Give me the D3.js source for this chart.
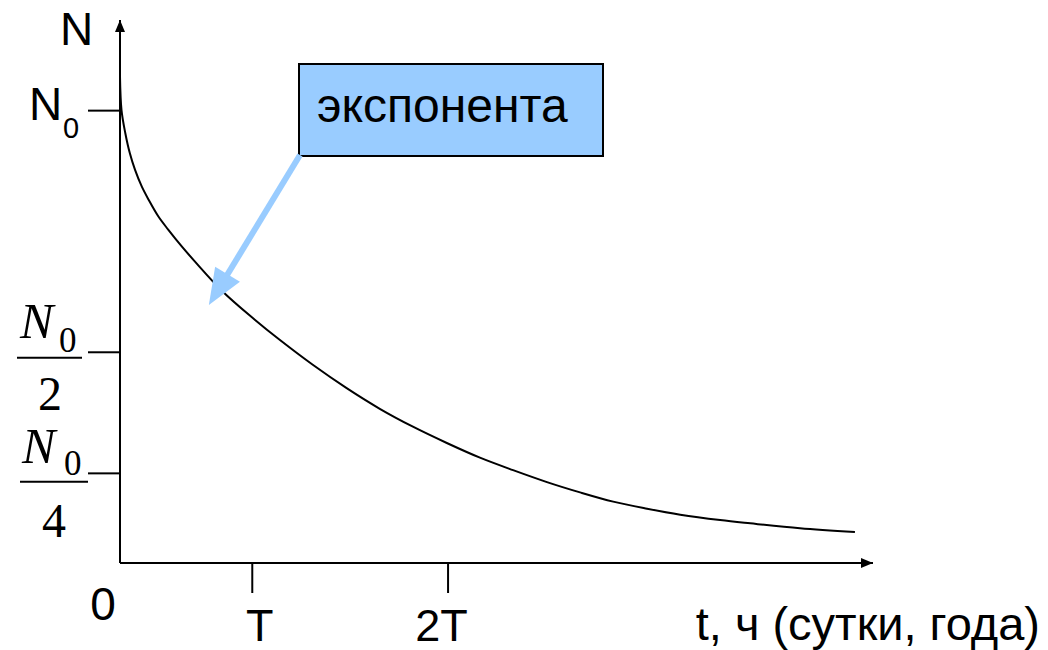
<!DOCTYPE html>
<html>
<head>
<meta charset="utf-8">
<script src="https://cdn.jsdelivr.net/npm/d3@7"></script>
<style>
  html, body { margin: 0; padding: 0; background: #fff; }
  svg { display: block; }
</style>
</head>
<body>
<svg id="chart"></svg>
<script>
// ---- data (arbitrary units) ----
const curveT = [0, 0.02, 0.07, 0.13, 0.20, 0.29, 0.38, 0.51, 0.64, 0.82, 0.99, 1.37, 1.79, 2.12, 2.56, 3.01, 3.45, 3.89, 4.34, 4.78, 5.22, 5.67, 6.11, 6.55, 7.00, 7.44, 7.97, 8.37, 9.03, 9.76];
const curveN = [8.96, 8.34, 7.92, 7.55, 7.24, 6.93, 6.69, 6.38, 6.14, 5.83, 5.56, 4.99, 4.48, 4.11, 3.65, 3.22, 2.84, 2.51, 2.21, 1.94, 1.71, 1.49, 1.30, 1.13, 1.00, 0.89, 0.79, 0.73, 0.64, 0.57];

const yTickValues = [8.34, 3.89, 1.66];
const yTickLabels = ['N0', 'N0/2', 'N0/4'];
const xTickValues = [1.75, 4.35];
const xTickLabels = ['T', '2T'];

const calloutText = 'экспонента';
const calloutTip = [1.18, 4.75];   // where the arrow points (data units)

const width = 1048, height = 650;
const sans = '"Liberation Sans", Arial, sans-serif';
const serif = '"Liberation Serif", "Times New Roman", serif';

const svg = d3.select('#chart').attr('width', width).attr('height', height);

const x = d3.scaleLinear().domain([0, 10]).range([120, 873]);
const y = d3.scaleLinear().domain([0, 10]).range([563, 20]);

// arrow marker for axes
svg.append('defs').append('marker')
  .attr('id', 'axisArrow')
  .attr('viewBox', '0 0 12 10')
  .attr('refX', 12).attr('refY', 5)
  .attr('markerWidth', 12).attr('markerHeight', 10)
  .attr('markerUnits', 'userSpaceOnUse')
  .attr('orient', 'auto')
  .append('path').attr('d', 'M0,0 L12,5 L0,10 Z').attr('fill', '#000');

// axis lines
svg.append('line')
  .attr('x1', x(0)).attr('y1', y(0)).attr('x2', x(0)).attr('y2', y(10))
  .attr('stroke', '#000').attr('stroke-width', 2).attr('marker-end', 'url(#axisArrow)');
svg.append('line')
  .attr('x1', x(0)).attr('y1', y(0)).attr('x2', x(10)).attr('y2', y(0))
  .attr('stroke', '#000').attr('stroke-width', 2).attr('marker-end', 'url(#axisArrow)');

// ticks through d3 axes
const yAxis = svg.append('g')
  .attr('transform', `translate(${x(0)},0)`)
  .call(d3.axisLeft(y).tickValues(yTickValues).tickSize(32).tickSizeOuter(0).tickFormat(''));
yAxis.select('.domain').remove();
yAxis.selectAll('line').attr('stroke', '#000').attr('stroke-width', 2);

const xAxis = svg.append('g')
  .attr('transform', `translate(0,${y(0)})`)
  .call(d3.axisBottom(x).tickValues(xTickValues).tickSize(30).tickSizeOuter(0).tickFormat(''));
xAxis.select('.domain').remove();
xAxis.selectAll('line').attr('stroke', '#000').attr('stroke-width', 2);

// curve
const pts = curveT.map((t, i) => [t, curveN[i]]);
svg.append('path')
  .datum(pts)
  .attr('fill', 'none')
  .attr('stroke', '#000')
  .attr('stroke-width', 2)
  .attr('d', d3.line().x(d => x(d[0])).y(d => y(d[1])).curve(d3.curveCatmullRom.alpha(0.5)));

// axis titles
svg.append('text').attr('x', 60).attr('y', 45)
  .style('font-family', sans).style('font-size', '46px').text('N');
svg.append('text').attr('x', 1040).attr('y', 640).attr('text-anchor', 'end')
  .style('font-family', sans).style('font-size', '47px').text('t, ч (сутки, года)');
svg.append('text').attr('x', 103).attr('y', 620).attr('text-anchor', 'middle')
  .style('font-family', sans).style('font-size', '46px').text('0');

// x tick labels
const xLabelShift = [8, -6];
xTickValues.forEach((v, i) => {
  svg.append('text')
    .attr('x', x(v) + xLabelShift[i]).attr('y', 641)
    .attr('text-anchor', 'middle')
    .style('font-family', sans).style('font-size', '45px')
    .text(xTickLabels[i]);
});

// y tick labels
yTickValues.forEach((v, i) => {
  const ty = y(v);
  const lab = yTickLabels[i];
  if (lab === 'N0') {
    const t = svg.append('text').style('font-family', sans);
    t.append('tspan').attr('x', 29).attr('y', ty + 10).style('font-size', '46px').text('N');
    t.append('tspan').attr('x', 63).attr('y', ty + 28).style('font-size', '29px').text('0');
  } else {
    const lay = lab === 'N0/2'
      ? { nx: 20, nb: -14, sx: 59, sb: 0, bar: 6, b0: 17, b1: 82, dx: 50, db: 58, den: '2' }
      : { nx: 22, nb: -10, sx: 64, sb: 2, bar: 9, b0: 20, b1: 88, dx: 54, db: 64, den: '4' };
    const t = svg.append('text').style('font-family', serif);
    t.append('tspan').attr('x', lay.nx).attr('y', ty + lay.nb).style('font-size', '50px').style('font-style', 'italic').text('N');
    t.append('tspan').attr('x', lay.sx).attr('y', ty + lay.sb).style('font-size', '35px').text('0');
    svg.append('line').attr('x1', lay.b0).attr('x2', lay.b1).attr('y1', ty + lay.bar).attr('y2', ty + lay.bar)
      .attr('stroke', '#000').attr('stroke-width', 2);
    svg.append('text').attr('x', lay.dx).attr('y', ty + lay.db).attr('text-anchor', 'middle')
      .style('font-family', serif).style('font-size', '48px').text(lay.den);
  }
});

// callout box
const box = { x: 299, y: 64, w: 304, h: 92 };
svg.append('rect')
  .attr('x', box.x).attr('y', box.y).attr('width', box.w).attr('height', box.h)
  .attr('fill', '#99ccff').attr('stroke', '#000').attr('stroke-width', 2);
svg.append('text').attr('x', box.x + 18).attr('y', box.y + 58)
  .style('font-family', sans).style('font-size', '48px').text(calloutText);

// callout arrow
const sx = box.x + 1, sy = box.y + box.h - 1;
const tx = x(calloutTip[0]), ty = y(calloutTip[1]);
const len = Math.hypot(tx - sx, ty - sy);
const ux = (tx - sx) / len, uy = (ty - sy) / len;
const head = 36, half = 14.5;
const mx = tx - head * ux, my = ty - head * uy;
svg.append('line')
  .attr('x1', sx).attr('y1', sy).attr('x2', mx + ux * 2).attr('y2', my + uy * 2)
  .attr('stroke', '#99ccff').attr('stroke-width', 6);
svg.append('path')
  .attr('d', `M${tx},${ty} L${mx - half * uy},${my + half * ux} L${mx + half * uy},${my - half * ux} Z`)
  .attr('fill', '#99ccff');
</script>
</body>
</html>
